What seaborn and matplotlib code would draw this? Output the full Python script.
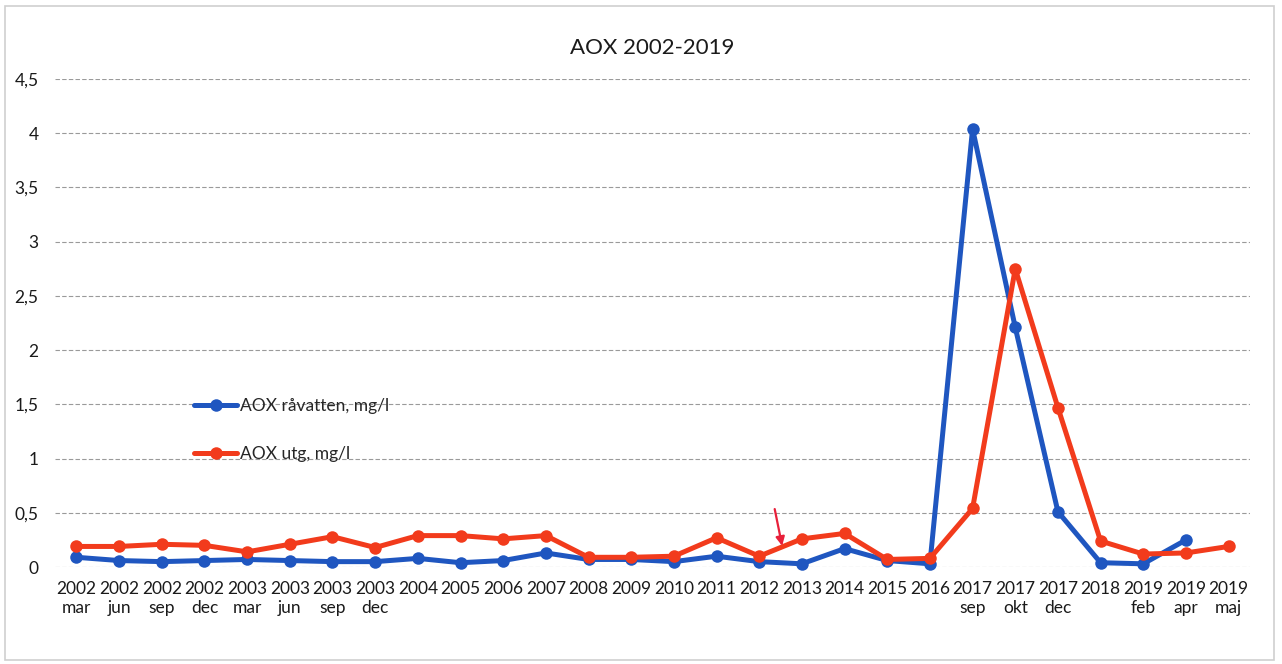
import numpy as np
import pandas as pd
import matplotlib
matplotlib.use("Agg")
import matplotlib.pyplot as plt
import seaborn as sns

categories = ["2002\nmar", "2002\njun", "2002\nsep", "2002\ndec", "2003\nmar", "2003\njun",
              "2003\nsep", "2003\ndec", "2004", "2005", "2006", "2007", "2008", "2009",
              "2010", "2011", "2012", "2013", "2014", "2015", "2016", "2017\nsep",
              "2017\nokt", "2017\ndec", "2018", "2019\nfeb", "2019\napr", "2019\nmaj"]
ravatten = [0.09, 0.06, 0.05, 0.06, 0.07, 0.06, 0.05, 0.05, 0.08, 0.04, 0.06, 0.13, 0.07, 0.07,
            0.05, 0.10, 0.05, 0.03, 0.17, 0.06, 0.03, 4.04, 2.21, 0.51, 0.04, 0.03, 0.25, np.nan]
utg = [0.19, 0.19, 0.21, 0.20, 0.14, 0.21, 0.28, 0.18, 0.29, 0.29, 0.26, 0.29, 0.09, 0.09,
       0.10, 0.27, 0.10, 0.26, 0.31, 0.07, 0.08, 0.54, 2.75, 1.47, 0.24, 0.12, 0.13, 0.19]
series_names = ["AOX råvatten, mg/l", "AOX utg, mg/l"]
yticks = [0, 0.5, 1, 1.5, 2, 2.5, 3, 3.5, 4, 4.5]
ytick_labels = ["0", "0,5", "1", "1,5", "2", "2,5", "3", "3,5", "4", "4,5"]
title = "AOX 2002-2019"

sns.set_style("white")
plt.rcParams["font.family"] = ["Lato", "DejaVu Sans"]

pos = np.arange(len(categories))
df = pd.DataFrame({
    "pos": np.concatenate([pos, pos]),
    "value": np.concatenate([ravatten, utg]),
    "series": [series_names[0]] * len(pos) + [series_names[1]] * len(pos),
}).dropna()

fig = plt.figure(figsize=(12.82, 6.64), dpi=100)
ax = fig.add_axes([0.043, 0.146, 0.932, 0.735])

palette = {series_names[0]: "#1f56c0", series_names[1]: "#f23b1c"}
sns.lineplot(data=df, x="pos", y="value", hue="series", palette=palette,
             marker="o", markersize=9, markeredgewidth=0, linewidth=3.6,
             ax=ax, clip_on=False, zorder=3)

ax.set_xlim(-0.5, len(categories) - 0.5)
ax.set_ylim(0, 4.5)
ax.set_xticks(pos)
ax.set_xticklabels(categories, fontsize=12.5, color="#1a1a1a", linespacing=1.25)
ax.set_yticks(yticks)
ax.set_yticklabels(ytick_labels, fontsize=12.5, color="#1a1a1a")
ax.tick_params(axis="x", length=0, pad=10)
ax.tick_params(axis="y", length=0, pad=12)
ax.set_xlabel("")
ax.set_ylabel("")
for s in ax.spines.values():
    s.set_visible(False)
ax.grid(axis="y", color="#9a9a9a", linestyle=(0, (4, 2)), linewidth=0.8)
ax.set_axisbelow(True)

ax.set_title(title, fontsize=16, color="#1a1a1a", pad=18)

leg = ax.legend(loc="upper left", bbox_to_anchor=(0.103, 0.378), frameon=False,
                fontsize=12.5, labelspacing=1.85, handlelength=2.5, handletextpad=0.15)

ax.annotate("", xy=(16.55, 0.17), xytext=(16.35, 0.56),
            arrowprops=dict(arrowstyle="-|>", color="#e8203a", lw=1.6, mutation_scale=13))

fig.patches.append(plt.Rectangle((0.004, 0.006), 0.99, 0.985, transform=fig.transFigure,
                                 fill=False, edgecolor="#cfcfcf", linewidth=1.2))

fig.savefig("out.png", dpi=100)
